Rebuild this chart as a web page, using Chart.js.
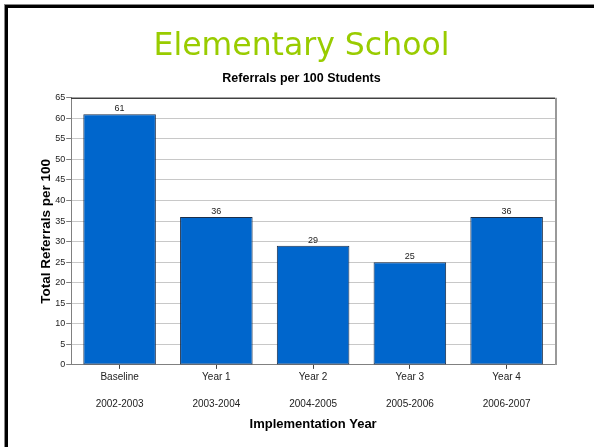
<!DOCTYPE html>
<html>
<head>
<meta charset="utf-8">
<script src="https://cdn.jsdelivr.net/npm/chart.js@4"></script>
<style>
    body { margin: 0; background: #fff; }
    #frame {
        position: absolute; left: 5px; top: 5px; width: 600px; height: 450px;
        border-left: 3px solid #000; border-top: 3px solid #000;
        box-shadow: -1px -1px 0 #888;
    }
    #schoolChart { position: absolute; left: 0; top: 0; }
</style>
</head>
<body>
<div id="frame"></div>
<canvas id="schoolChart" width="594" height="447"></canvas>
<script>
const years = [['Baseline', '', '2002-2003'], ['Year 1', '', '2003-2004'], ['Year 2', '', '2004-2005'], ['Year 3', '', '2005-2006'], ['Year 4', '', '2006-2007']];
const referrals = [61, 36, 29, 25, 36];
const yTicks = [0, 5, 10, 15, 20, 25, 30, 35, 40, 45, 50, 55, 60, 65];

// numbers above bars + top/right frame of the plot
const barValues = {
    id: 'barValues',
    afterDatasetsDraw(chart) {
        const ctx = chart.ctx;
        const meta = chart.getDatasetMeta(0);
        ctx.save();
        ctx.font = '9px "Liberation Sans", Arial, sans-serif';
        ctx.fillStyle = '#222';
        ctx.textAlign = 'center';
        ctx.textBaseline = 'bottom';
        meta.data.forEach((bar, i) => {
            ctx.fillText(referrals[i], bar.x, bar.y - 1);
        });
        const a = chart.chartArea;
        ctx.strokeStyle = '#111';
        ctx.lineWidth = 1;
        ctx.beginPath();
        ctx.moveTo(a.left, a.top + 0.5);
        ctx.lineTo(a.right, a.top + 0.5);
        ctx.stroke();
        ctx.strokeStyle = '#999';
        ctx.lineWidth = 2;
        ctx.beginPath();
        ctx.moveTo(a.right + 1, a.top);
        ctx.lineTo(a.right + 1, a.bottom);
        ctx.stroke();
        ctx.restore();
    }
};

new Chart(document.getElementById('schoolChart').getContext('2d'), {
    type: 'bar',
    data: {
        labels: years,
        datasets: [{
            data: referrals,
            backgroundColor: '#0066cc',
            borderColor: '#1c2f4a',
            borderWidth: 1,
            borderSkipped: false,
            categoryPercentage: 0.75,
            barPercentage: 1
        }]
    },
    options: {
        responsive: false,
        animation: false,
        layout: { padding: { left: 48, right: 39, top: 28, bottom: 15 } },
        plugins: {
            legend: { display: false },
            tooltip: { enabled: false },
            title: {
                display: true,
                text: 'Elementary School',
                color: '#99cc00',
                font: { family: 'DejaVu Sans', size: 31.5, weight: 'normal' },
                padding: { top: 0, bottom: 5 }
            },
            subtitle: {
                display: true,
                text: 'Referrals per 100 Students',
                color: '#000',
                font: { family: 'Liberation Sans', size: 12.5, weight: 'bold' },
                padding: { top: 0, bottom: 12 }
            }
        },
        scales: {
            x: {
                grid: { display: true, drawOnChartArea: false, drawTicks: true, tickLength: 4, offset: false, tickColor: '#444' },
                border: { color: '#808080', width: 1 },
                ticks: {
                    color: '#222',
                    font: { family: 'Liberation Sans', size: 10, lineHeight: 1.35 },
                    padding: 2,
                    maxRotation: 0,
                    autoSkip: false
                },
                title: {
                    display: true,
                    text: 'Implementation Year',
                    color: '#000',
                    font: { family: 'Liberation Sans', size: 13, weight: 'bold' },
                    padding: { top: 3, bottom: 0 }
                }
            },
            y: {
                min: 0,
                max: 65,
                afterBuildTicks(scale) {
                    scale.ticks = yTicks.map(v => ({ value: v }));
                },
                grid: { color: '#c8c8c8', tickColor: '#808080', tickLength: 5 },
                border: { color: '#808080', width: 1 },
                ticks: {
                    color: '#222',
                    font: { family: 'Liberation Sans', size: 9 },
                    padding: 1
                },
                title: {
                    display: true,
                    text: 'Total Referrals per 100',
                    color: '#000',
                    font: { family: 'Liberation Sans', size: 13.5, weight: 'bold' },
                    padding: { top: -10, bottom: 0 }
                }
            }
        }
    },
    plugins: [barValues]
});
</script>
</body>
</html>
